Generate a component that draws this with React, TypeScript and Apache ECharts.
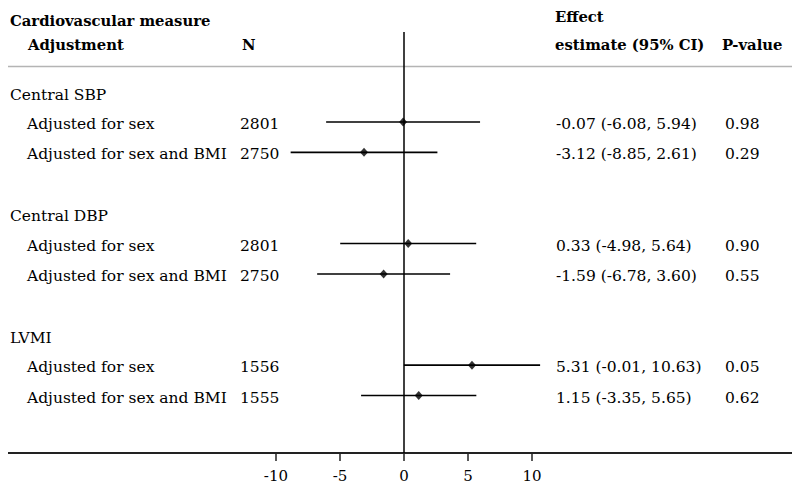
import React, { useEffect, useRef } from "react";
import * as echarts from "echarts";

const measures = ["Central SBP", "Central DBP", "LVMI"];
const adjustments = ["Adjusted for sex", "Adjusted for sex and BMI"];
const nValues = [2801, 2750, 2801, 2750, 1556, 1555];
const estimates = [-0.07, -3.12, 0.33, -1.59, 5.31, 1.15];
const lowerCI = [-6.08, -8.85, -4.98, -6.78, -0.01, -3.35];
const upperCI = [5.94, 2.61, 5.64, 3.6, 10.63, 5.65];
const pValues = ["0.98", "0.29", "0.90", "0.55", "0.05", "0.62"];
const xTicks = [-10, -5, 0, 5, 10];

const FONT = "'DejaVu Serif', serif";
const FS = 15.5;
const FS_BOLD = 14.8;

function fmt(v: number) {
  return v.toFixed(2);
}

export default function App() {
  const ref = useRef<HTMLDivElement>(null);
  useEffect(() => {
    if (!ref.current) return;
    const chart = echarts.init(ref.current, null, { renderer: "svg" });

    const measureRows = measures.map((m, i) => ({ slot: i * 4, label: m }));
    const subRows: any[] = [];
    measures.forEach((m, i) => {
      adjustments.forEach((a, j) => {
        const k = i * 2 + j;
        subRows.push({
          slot: i * 4 + 1 + j,
          label: a,
          n: String(nValues[k]),
          est: `${fmt(estimates[k])} (${fmt(lowerCI[k])}, ${fmt(upperCI[k])})`,
          p: pValues[k],
          k,
        });
      });
    });

    const textStyle = (text: string, x: number, y: number, bold = false) => ({
      type: "text",
      style: {
        text,
        x,
        y,
        fill: "#000",
        font: `${bold ? "bold " : ""}${bold ? FS_BOLD : FS}px ${FONT}`,
        textVerticalAlign: "middle",
        textAlign: "left",
      },
    });

    chart.setOption({
      animation: false,
      grid: { left: 7, right: 8, top: 32, bottom: 38 },
      xAxis: {
        type: "value",
        min: -31,
        max: 30.3,
        splitLine: { show: false },
        axisLine: { show: true, onZero: false, lineStyle: { color: "#222", width: 2 } },
        axisTick: {
          show: true,
          length: 8,
          customValues: xTicks,
          lineStyle: { color: "#222", width: 1.5 },
        },
        axisLabel: {
          customValues: xTicks,
          margin: 15,
          color: "#000",
          fontFamily: FONT,
          fontSize: 15,
        },
      },
      yAxis: {
        type: "value",
        show: false,
        inverse: true,
        min: -1.96,
        max: 11.89,
        splitLine: { show: false },
      },
      graphic: [
        {
          type: "line",
          shape: { x1: 7, y1: 66.5, x2: 800, y2: 66.5 },
          style: { stroke: "#b4b4b4", lineWidth: 1.5 },
        },
        textStyle("Cardiovascular measure", 10, 20, true),
        textStyle("Adjustment", 28, 44, true),
        textStyle("N", 242, 44, true),
        textStyle("Effect", 555, 16, true),
        textStyle("estimate (95% CI)", 555, 44, true),
        textStyle("P-value", 722, 44, true),
      ],
      series: [
        {
          type: "custom",
          name: "measures",
          data: measureRows.map((r, i) => [0, r.slot, i]),
          renderItem: (params: any, api: any) => {
            const i = api.value(2);
            const y = api.coord([0, api.value(1)])[1] + 3;
            return textStyle(measureRows[i].label, 10, y);
          },
          silent: true,
          z: 5,
        },
        {
          type: "custom",
          name: "rows",
          data: subRows.map((r, i) => [0, r.slot, i]),
          renderItem: (params: any, api: any) => {
            const r = subRows[api.value(2)];
            const y = api.coord([0, api.value(1)])[1] + 2;
            return {
              type: "group",
              children: [
                textStyle(r.label, 27, y),
                textStyle(r.n, 240, y),
                textStyle(r.est, 556, y),
                textStyle(r.p, 725, y),
              ],
            };
          },
          silent: true,
          z: 5,
        },
        {
          type: "custom",
          name: "ci",
          data: subRows.map((r) => [lowerCI[r.k], upperCI[r.k], r.slot]),
          renderItem: (params: any, api: any) => {
            const y = api.value(2);
            const p1 = api.coord([api.value(0), y]);
            const p2 = api.coord([api.value(1), y]);
            return {
              type: "line",
              shape: { x1: p1[0], y1: p1[1], x2: p2[0], y2: p2[1] },
              style: { stroke: "#000", lineWidth: 1.6 },
            };
          },
          encode: { x: [0, 1], y: 2 },
          silent: true,
          z: 3,
        },
        {
          type: "scatter",
          name: "estimate",
          data: subRows.map((r) => [estimates[r.k], r.slot]),
          symbol: "diamond",
          symbolSize: [8, 9],
          itemStyle: { color: "#000" },
          z: 4,
          silent: true,
          markLine: {
            silent: true,
            symbol: "none",
            label: { show: false },
            lineStyle: { color: "#000", width: 1.5, type: "solid" },
            data: [{ xAxis: 0 }],
          },
        },
      ],
    });
    return () => chart.dispose();
  }, []);
  return <div ref={ref} style={{ width: 800, height: 491, margin: -8 }} />;
}
